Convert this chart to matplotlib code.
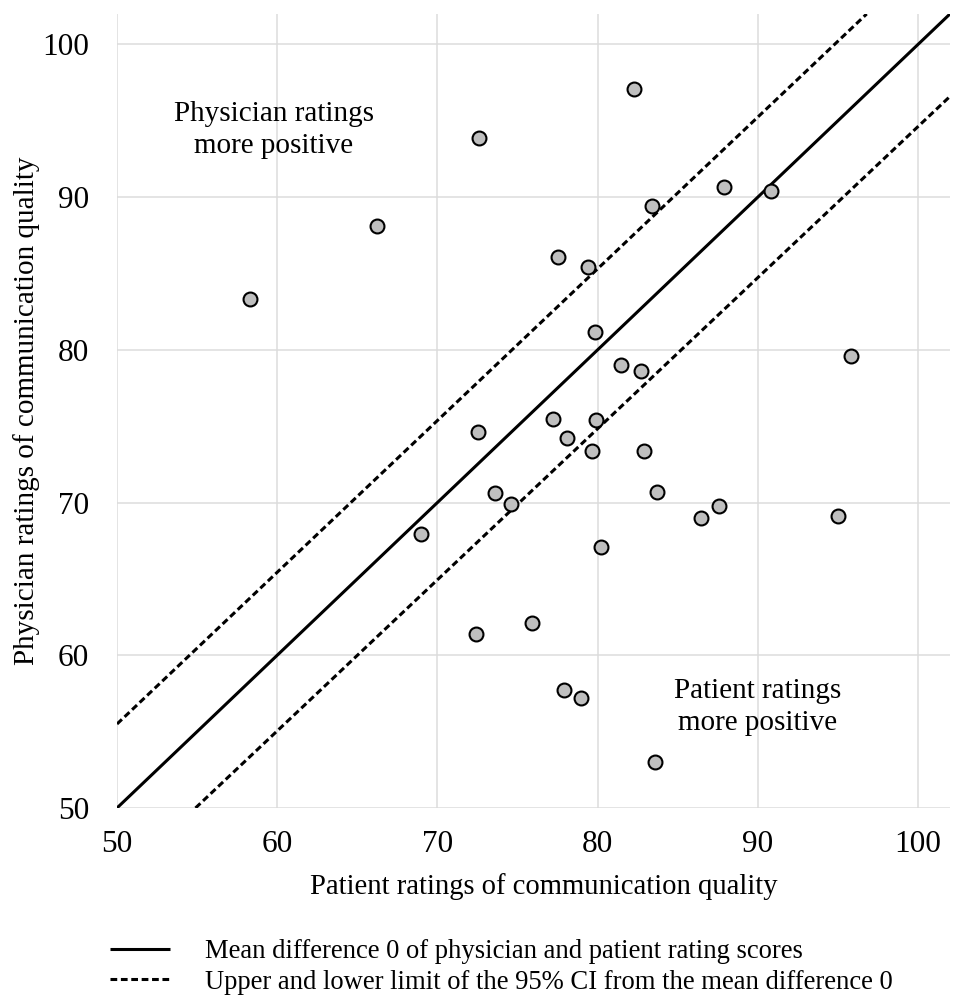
import matplotlib
matplotlib.use("Agg")
import matplotlib.pyplot as plt

plt.rcParams['font.family'] = ['Liberation Serif', 'DejaVu Serif']

# patient (x) and physician (y) ratings
patient = [58.3, 66.2, 72.6, 82.3, 87.9, 90.8, 83.4, 77.5, 79.4, 79.85,
           81.45, 82.7, 95.8, 77.2, 79.9, 78.1, 72.55, 79.65, 82.9, 73.6,
           74.6, 83.7, 87.6, 86.45, 95.0, 80.2, 75.9, 72.4, 77.9, 78.96,
           83.6, 69.0]
physician = [83.3, 88.1, 93.85, 97.1, 90.7, 90.4, 89.4, 86.1, 85.4, 81.2,
             79.0, 78.6, 79.6, 75.5, 75.4, 74.2, 74.6, 73.35, 73.4, 70.65,
             69.9, 70.7, 69.75, 68.97, 69.13, 67.06, 62.1, 61.4, 57.7, 57.2,
             53.0, 67.97]

mean_x = [50, 102]
mean_y = [50, 102]
upper_x = [50, 96.8]
upper_y = [55.5, 102]
lower_x = [54.9, 102]
lower_y = [50, 96.6]

ticks = [50, 60, 70, 80, 90, 100]

fig = plt.figure(figsize=(9.56, 9.97), dpi=100)
ax = fig.add_axes([0.1224, 0.1896, 0.8713, 0.7964])

ax.plot(mean_x, mean_y, color='black', lw=2.2, solid_capstyle='butt',
        label='Mean difference 0 of physician and patient rating scores', zorder=3)
ax.plot(upper_x, upper_y, color='black', lw=2.2, dashes=(2.2, 1.2),
        label='Upper and lower limit of the 95% CI from the mean difference 0', zorder=3)
ax.plot(lower_x, lower_y, color='black', lw=2.2, dashes=(2.2, 1.2), zorder=3)
ax.scatter(patient, physician, s=100, facecolor='#bfbfbf', edgecolor='black',
           linewidth=1.5, zorder=4)

ax.set_xlim(50, 102)
ax.set_ylim(50, 102)
ax.set_xticks(ticks)
ax.set_yticks(ticks)
ax.grid(True, color='#dcdcdc', lw=1.1)
ax.set_axisbelow(True)
for s in ax.spines.values():
    s.set_visible(False)
ax.tick_params(length=0, labelsize=22.5)
ax.tick_params(axis='x', pad=16)
ax.tick_params(axis='y', pad=20)

ax.set_xlabel('Patient ratings of communication quality', fontsize=20.6, labelpad=10)
ax.xaxis.label.set_x(0.512)
ax.set_ylabel('Physician ratings of communication quality', fontsize=21, labelpad=2)

ax.text(59.8, 94.4, 'Physician ratings\nmore positive', ha='center', va='center',
        fontsize=21, linespacing=1.3)
ax.text(90.0, 56.6, 'Patient ratings\nmore positive', ha='center', va='center',
        fontsize=21, linespacing=1.3)

ax.legend(loc='upper left', bbox_to_anchor=(0.115, 0.058), bbox_transform=fig.transFigure,
          frameon=False, fontsize=19.2, handlelength=2.25, handletextpad=1.3,
          labelspacing=0.2, borderpad=0, borderaxespad=0)

fig.savefig('out.png', dpi=100)
